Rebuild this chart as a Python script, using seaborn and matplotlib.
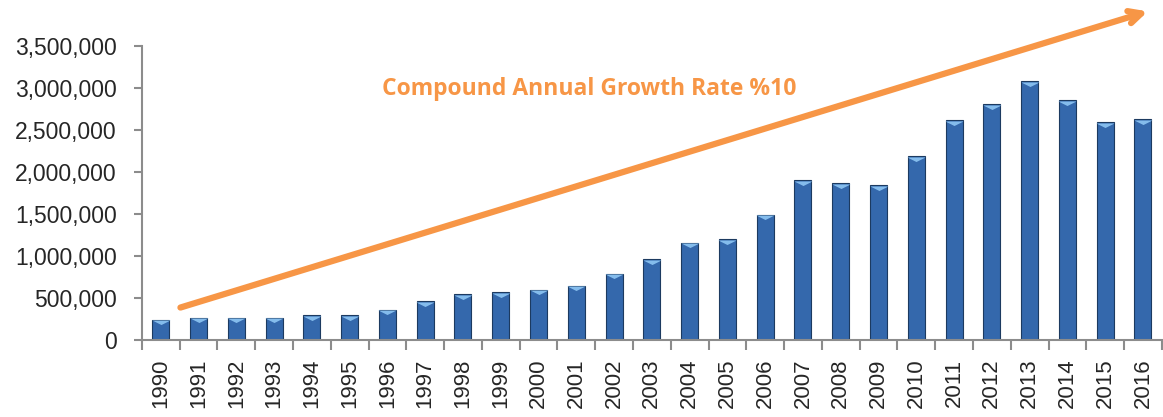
import pandas as pd
import matplotlib.pyplot as plt
import matplotlib.ticker as mticker
import seaborn as sns

# Dados
years = [str(y) for y in range(1990, 2017)]
values = [240000, 264000, 264000, 264000, 292000, 292000, 360000, 458000,
          542000, 565000, 598000, 645000, 788000, 958000, 1157000, 1196000,
          1490000, 1899000, 1865000, 1839000, 2188000, 2613000, 2804000,
          3081000, 2851000, 2589000, 2629000]
label_text = 'Compound Annual Growth Rate %10'

df = pd.DataFrame({'Year': years, 'Value': values})

sns.set_style('white')
plt.rcParams['font.family'] = ['Liberation Sans', 'DejaVu Sans']

fig = plt.figure(figsize=(11.63, 4.17), dpi=100)
ax = fig.add_axes([0.122, 0.185, 0.877, 0.705])

sns.barplot(data=df, x='Year', y='Value', color='#3468AC', width=0.45,
            saturation=1, edgecolor='#1C3A60', linewidth=0.8, ax=ax)

# triângulo claro e achatado no topo de cada barra (efeito bisel)
bevel = [(-1, 0), (1, 0), (0, -0.5), (-1, 0)]
ax.scatter(range(len(values)), [v - 9000 for v in values], marker=bevel,
           s=170, color='#84BCEC', zorder=3, linewidths=0)

ax.set_xlim(-0.5, len(years) - 0.5)
ax.set_ylim(0, 3500000)
ax.set_xlabel('')
ax.set_ylabel('')
ax.yaxis.set_major_locator(mticker.MultipleLocator(500000))
ax.yaxis.set_major_formatter(mticker.FuncFormatter(lambda v, p: f'{int(v):,}'))

for side in ['top', 'right']:
    ax.spines[side].set_visible(False)
for side in ['left', 'bottom']:
    ax.spines[side].set_color('#8C8C8C')
    ax.spines[side].set_linewidth(1.5)

ax.tick_params(axis='y', which='major', left=True, length=6, width=1.5,
               color='#8C8C8C', labelsize=16.5, pad=12)
ax.tick_params(axis='x', which='major', bottom=False, labelsize=16,
               labelrotation=90, pad=10)
ax.set_xticks([i + 0.5 for i in range(-1, len(years))], minor=True)
ax.tick_params(axis='x', which='minor', bottom=True, length=7, width=1.5,
               color='#8C8C8C')

# seta de crescimento
ax.annotate('', xy=(26.2, 3920000), xytext=(0.45, 375000),
            xycoords='data', annotation_clip=False,
            arrowprops=dict(arrowstyle='->,head_length=0.9,head_width=0.45',
                            color='#F79646', lw=4.5))
ax.text(11.35, 2990000, label_text, color='#F79646', fontsize=16.5,
        fontweight='bold', ha='center', va='center',
        family=['Open Sans', 'DejaVu Sans'])

fig.savefig('out.png', dpi=100)
